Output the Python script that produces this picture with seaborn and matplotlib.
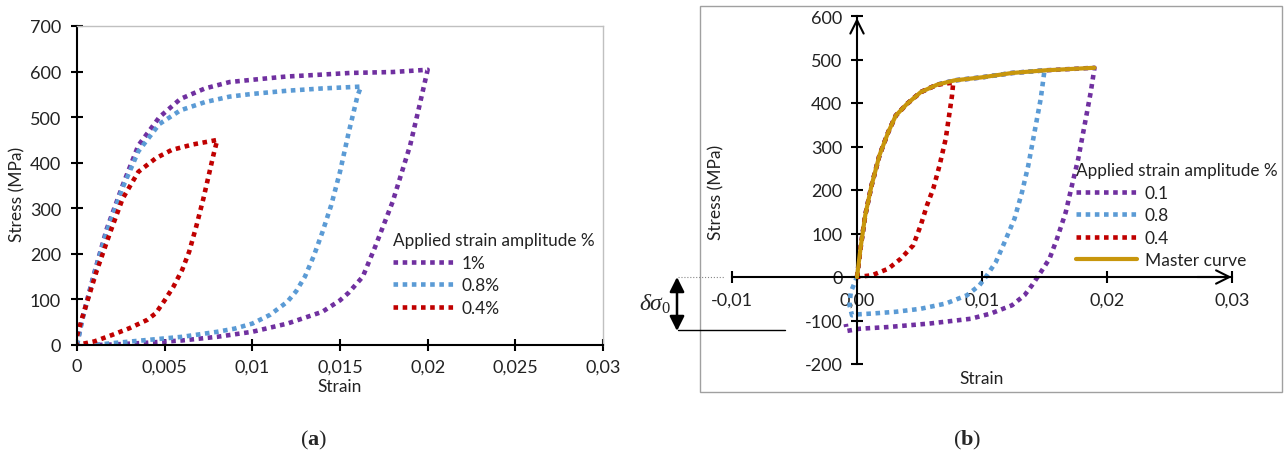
import matplotlib
matplotlib.use("Agg")
import matplotlib.pyplot as plt
import matplotlib.patches as mpatches
from matplotlib.lines import Line2D
import seaborn as sns
import pandas as pd

# =========================
# DATA  (a)
# =========================

a_labels = ["1%", "0.8%", "0.4%"]

a_1_strain = [0, 0.0003, 0.001, 0.0017, 0.0026, 0.0035, 0.0047, 0.0059, 0.0073, 0.0087, 0.010,
              0.0119, 0.0138, 0.0156, 0.018, 0.020,
              0.0195, 0.019, 0.018, 0.017, 0.0163, 0.0155, 0.015, 0.014, 0.012, 0.010, 0.008,
              0.006, 0.004, 0.002, 0.001]
a_1_stress = [0, 58, 160, 255, 350, 438, 500, 540, 563, 577, 582,
              589, 593, 597, 599, 604,
              520, 438, 314, 215, 150, 115, 98, 73, 47, 29, 18,
              10, 5, 1, 0]

a_08_strain = [0, 0.0003, 0.001, 0.0017, 0.0026, 0.0035, 0.0047, 0.0059, 0.0073, 0.0087, 0.010,
               0.012, 0.014, 0.0162,
               0.016, 0.0155, 0.015, 0.0145, 0.014, 0.0135, 0.013, 0.0125, 0.012, 0.011, 0.010,
               0.009, 0.008, 0.006, 0.004, 0.002, 0.001]
a_08_stress = [0, 55, 158, 250, 345, 425, 485, 515, 533, 545, 551,
               558, 563, 567,
               547, 467, 380, 307, 248, 195, 150, 118, 95, 66, 47,
               36, 29, 18, 11, 4, 0]

a_04_strain = [0, 0.0003, 0.0011, 0.0019, 0.0026, 0.0035, 0.0045, 0.0054, 0.0066, 0.008,
               0.0078, 0.0075, 0.0072, 0.0068, 0.0064, 0.006, 0.0055, 0.005, 0.0045, 0.004,
               0.003, 0.002, 0.001, 0.0]
a_04_stress = [20, 60, 160, 248, 321, 380, 410, 428, 440, 450,
               420, 370, 320, 260, 205, 165, 128, 98, 70, 55,
               37, 22, 8, 0]

# =========================
# DATA  (b)
# =========================

b_labels = ["0.1", "0.8", "0.4", "Master curve"]

master_strain = [0, 0.0003, 0.00066, 0.00116, 0.0018, 0.0025, 0.0031, 0.004, 0.0051, 0.0064,
                 0.0078, 0.010, 0.0124, 0.015, 0.019]
master_stress = [0, 70, 142, 210, 280, 333, 371, 398, 425, 442,
                 452, 459, 469, 475, 481]

b_01_strain = [0, 0.0003, 0.00066, 0.00116, 0.0018, 0.0025, 0.0031, 0.004, 0.0051, 0.0064,
               0.0078, 0.010, 0.0124, 0.015, 0.019,
               0.0187, 0.0182, 0.0177, 0.0172, 0.0167, 0.016, 0.0154, 0.0147, 0.014, 0.0134,
               0.0124, 0.0107, 0.0091, 0.0058, 0.0025, 0.0002, -0.0008, -0.0009]
b_01_stress = [0, 70, 142, 210, 280, 333, 371, 398, 425, 442,
               452, 459, 469, 475, 481,
               425, 348, 272, 211, 149, 88, 42, 11, -19, -42,
               -65, -84, -96, -107, -115, -119, -124, -108]

b_08_strain = [0, 0.0003, 0.00066, 0.00116, 0.0018, 0.0025, 0.0031, 0.004, 0.0051, 0.0064,
               0.0078, 0.010, 0.0124, 0.015,
               0.0147, 0.0142, 0.0137, 0.0132, 0.0126, 0.0117, 0.0111, 0.0104, 0.0098, 0.0088,
               0.0071, 0.0051, 0.0031, 0.0012, 0, -0.0004, -0.0006, -0.0005, 0]
b_08_stress = [0, 70, 142, 210, 280, 333, 371, 398, 425, 442,
               452, 459, 469, 475,
               410, 333, 256, 195, 134, 73, 34, 4, -19, -42,
               -61, -73, -80, -84, -86, -88, -65, -35, 0]

b_04_strain = [0, 0.0003, 0.00066, 0.00116, 0.0018, 0.0025, 0.0031, 0.004, 0.0051, 0.0064,
               0.0077,
               0.0076, 0.0071, 0.0066, 0.0061, 0.0056, 0.0051, 0.0045, 0.0035, 0.0025, 0.0012, 0]
b_04_stress = [0, 70, 142, 210, 280, 333, 371, 398, 425, 442,
               447,
               417, 318, 256, 203, 165, 119, 73, 42, 19, 4, 0]

purple = "#7030A0"
blue = "#5B9BD5"
red = "#C00000"
gold = "#C8960C"

# =========================
# STYLE
# =========================

sns.set_style("white")
plt.rcParams["font.family"] = ["Lato", "DejaVu Sans"]
plt.rcParams["axes.unicode_minus"] = False
plt.rcParams["mathtext.fontset"] = "custom"
plt.rcParams["mathtext.rm"] = "Liberation Serif"
plt.rcParams["mathtext.it"] = "Liberation Serif:italic"
plt.rcParams["mathtext.bf"] = "Liberation Serif:bold"

W, H = 1288, 456
txt = "#222222"


def fx(x):
    return x / W


def fy(y):
    return 1 - y / H


fig = plt.figure(figsize=(W / 100, H / 100), dpi=100)

dot = dict(linestyle=(0, (1, 1)), linewidth=3.3, dash_capstyle="butt")

# =========================
# PANEL (a)
# =========================

ax1 = fig.add_axes([fx(77), fy(346), fx(603) - fx(77), fy(27) - fy(346)])

series_a = [
    (a_1_strain, a_1_stress, a_labels[0], purple),
    (a_08_strain, a_08_stress, a_labels[1], blue),
    (a_04_strain, a_04_stress, a_labels[2], red),
]

handles_a = []
for xs, ys, lab, c in series_a:
    df = pd.DataFrame({"strain": xs, "stress": ys})
    sns.lineplot(data=df, x="strain", y="stress", sort=False, estimator=None,
                 color=c, ax=ax1, **dot)
    handles_a.append(Line2D([], [], color=c, label=lab, **dot))

ax1.set_xlim(0, 0.03)
ax1.set_ylim(0, 700)
ax1.set_xticks([0, 0.005, 0.01, 0.015, 0.02, 0.025, 0.03])
ax1.set_xticklabels(["0", "0,005", "0,01", "0,015", "0,02", "0,025", "0,03"])
ax1.set_yticks(range(0, 701, 100))

for s in ["left", "bottom"]:
    ax1.spines[s].set_color("black")
    ax1.spines[s].set_linewidth(1.5)
for s in ["top", "right"]:
    ax1.spines[s].set_color("#c0c0c0")
    ax1.spines[s].set_linewidth(1)

ax1.tick_params(axis="both", direction="inout", length=9, width=1.5, color="black",
                labelsize=13, labelcolor=txt, bottom=True, left=True)
ax1.tick_params(axis="x", pad=5)
ax1.tick_params(axis="y", pad=7)

ax1.set_xlabel("Strain", fontsize=12.5, color=txt)
ax1.set_ylabel("Stress (MPa)", fontsize=12.5, color=txt)
ax1.xaxis.set_label_coords(fx(340), fy(387), transform=fig.transFigure)
ax1.yaxis.set_label_coords(fx(17), fy(194), transform=fig.transFigure)
ax1.xaxis.label.set_va("center")
ax1.yaxis.label.set_va("center")

leg1 = ax1.legend(handles=handles_a, title="Applied strain amplitude %",
                  loc="upper left", bbox_to_anchor=(fx(393), fy(233)),
                  bbox_transform=fig.transFigure, frameon=False, fontsize=12.5,
                  title_fontsize=12.3, handlelength=3.5, handletextpad=0.45,
                  labelspacing=0.38, borderpad=0, borderaxespad=0, alignment="left")
for t in leg1.get_texts() + [leg1.get_title()]:
    t.set_color(txt)

# =========================
# PANEL (b)
# =========================

x0_px, px_per_strain = 857, 12500
y0_px, px_per_mpa = 278, 0.435
left_px, right_px, top_px, bot_px = 720, 1245, 10, 372

ax2 = fig.add_axes([fx(left_px), fy(bot_px), fx(right_px) - fx(left_px), fy(top_px) - fy(bot_px)])
ax2.patch.set_alpha(0)

series_b = [
    (b_01_strain, b_01_stress, b_labels[0], purple),
    (b_08_strain, b_08_stress, b_labels[1], blue),
    (b_04_strain, b_04_stress, b_labels[2], red),
]

handles_b = []
for xs, ys, lab, c in series_b:
    df = pd.DataFrame({"strain": xs, "stress": ys})
    sns.lineplot(data=df, x="strain", y="stress", sort=False, estimator=None,
                 color=c, ax=ax2, **dot)
    handles_b.append(Line2D([], [], color=c, label=lab, **dot))

df_m = pd.DataFrame({"strain": master_strain, "stress": master_stress})
sns.lineplot(data=df_m, x="strain", y="stress", sort=False, estimator=None,
             color=gold, linewidth=3, ax=ax2, zorder=5)
handles_b.append(Line2D([], [], color=gold, linewidth=3, label=b_labels[3]))

ax2.set_xlim((left_px - x0_px) / px_per_strain, (right_px - x0_px) / px_per_strain)
ax2.set_ylim(-(bot_px - y0_px) / px_per_mpa, (y0_px - top_px) / px_per_mpa)

ax2.spines["top"].set_visible(False)
ax2.spines["right"].set_visible(False)
ax2.spines["left"].set_position(("data", 0))
ax2.spines["bottom"].set_position(("data", 0))
ax2.spines["left"].set_bounds(-200, 600)
ax2.spines["bottom"].set_bounds(-0.01, 0.03)
for s in ["left", "bottom"]:
    ax2.spines[s].set_color("black")
    ax2.spines[s].set_linewidth(1.5)

ax2.set_xticks([-0.01, 0, 0.01, 0.02, 0.03])
ax2.set_xticklabels(["-0,01", "0,00", "0,01", "0,02", "0,03"])
ax2.set_yticks(range(-200, 601, 100))
ax2.set_yticklabels([str(v) for v in range(-200, 601, 100)])
ax2.tick_params(axis="both", direction="inout", length=9, width=1.5, color="black",
                labelsize=13, labelcolor=txt, bottom=True, left=True)
ax2.tick_params(axis="x", pad=6)
ax2.tick_params(axis="y", pad=6)

# axis arrows
ax2.annotate("", xy=(0, 602), xytext=(0, 560),
             arrowprops=dict(arrowstyle="->", lw=1.5, color="black", mutation_scale=24))
ax2.annotate("", xy=(0.0302, 0), xytext=(0.027, 0),
             arrowprops=dict(arrowstyle="->", lw=1.5, color="black", mutation_scale=24))

ax2.set_xlabel("Strain", fontsize=12.5, color=txt)
ax2.set_ylabel("Stress (MPa)", fontsize=12.5, color=txt)
ax2.xaxis.set_label_coords(fx(982), fy(379), transform=fig.transFigure)
ax2.yaxis.set_label_coords(fx(716), fy(192), transform=fig.transFigure)
ax2.xaxis.label.set_va("center")
ax2.yaxis.label.set_va("center")

leg2 = ax2.legend(handles=handles_b, title="Applied strain amplitude %",
                  loc="upper left", bbox_to_anchor=(fx(1076), fy(163)),
                  bbox_transform=fig.transFigure, frameon=False, fontsize=12.5,
                  title_fontsize=12.3, handlelength=3.5, handletextpad=0.45,
                  labelspacing=0.38, borderpad=0, borderaxespad=0, alignment="left")
for t in leg2.get_texts() + [leg2.get_title()]:
    t.set_color(txt)

# box round panel (b)
fig.add_artist(mpatches.Rectangle((fx(700), fy(393)), fx(1282) - fx(700), fy(7) - fy(393),
                                  transform=fig.transFigure, fill=False,
                                  edgecolor="#a0a0a0", linewidth=1))

# delta sigma_0 annotation
fig.add_artist(Line2D([fx(678), fx(724)], [fy(278), fy(278)], transform=fig.transFigure,
                      color="#888888", linewidth=0.8, linestyle=":"))
fig.add_artist(Line2D([fx(678), fx(785)], [fy(331), fy(331)], transform=fig.transFigure,
                      color="black", linewidth=1))
fig.add_artist(mpatches.FancyArrowPatch((fx(677), fy(278)), (fx(677), fy(332)),
                                        transform=fig.transFigure, arrowstyle="<|-|>",
                                        mutation_scale=22, color="black", linewidth=1.8,
                                        shrinkA=0, shrinkB=0))
fig.text(fx(655), fy(304), r"$\delta\sigma_0$", fontsize=17, ha="center", va="center")

# captions
fig.text(fx(314), fy(440), r"($\mathbf{a}$)", fontsize=16, ha="center", va="center",
         family="Liberation Serif")
fig.text(fx(967), fy(440), r"($\mathbf{b}$)", fontsize=16, ha="center", va="center",
         family="Liberation Serif")

fig.savefig("out.png", dpi=100)
